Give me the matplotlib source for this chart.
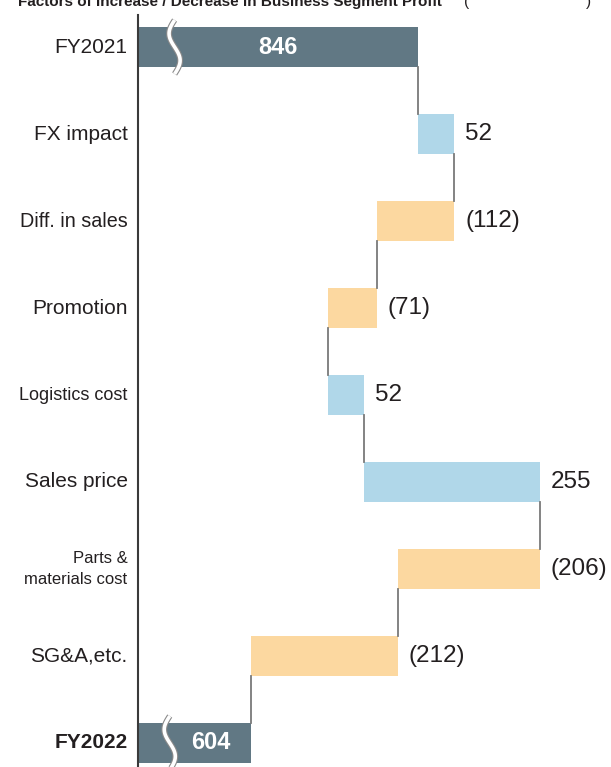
import matplotlib
matplotlib.use("Agg")
import matplotlib.pyplot as plt
import numpy as np
from matplotlib import font_manager

names = {f.name for f in font_manager.fontManager.ttflist}
narrow = "Liberation Sans Narrow" if "Liberation Sans Narrow" in names else "Liberation Sans"

categories = ["FY2021", "FX impact", "Diff. in sales", "Promotion", "Logistics cost",
              "Sales price", "Parts &\nmaterials cost", "SG&A,etc.", "FY2022"]
start_value = 846
changes = [52, -112, -71, 52, 255, -206, -212]
end_value = 604
change_labels = ["52", "(112)", "(71)", "52", "255", "(206)", "(212)"]

c_total = "#617884"
c_up = "#b0d7e9"
c_down = "#fcd8a0"
c_text = "#231f20"

fig = plt.figure(figsize=(6.11, 7.67), dpi=100)
W, H = 611, 767
ax = fig.add_axes([138 / W, 0, 1 - 138 / W, (767 - 15) / H])
ax.set_xlim(440, 1125)
ax.set_ylim(8.276, -0.368)

bh = 0.47
ax.barh(0, start_value - 440, left=440, height=bh, color=c_total)
ax.barh(8, end_value - 440, left=440, height=bh, color=c_total)

cum = start_value
ends = [start_value]
for i, ch in enumerate(changes):
    y = i + 1
    lo, hi = min(cum, cum + ch), max(cum, cum + ch)
    ax.barh(y, hi - lo, left=lo, height=bh, color=c_up if ch > 0 else c_down)
    ax.text(hi + 16, y, change_labels[i], va="center", ha="left", fontsize=17.5,
            color=c_text, family="Liberation Sans")
    cum += ch
    ends.append(cum)

for i, v in enumerate(ends):
    ax.plot([v, v], [i + bh / 2, i + 1 - bh / 2], color="#7a7a7a", lw=1.3, zorder=1)

ax.text(643, 0, "846", color="white", fontsize=17, fontweight="bold", ha="center",
        va="center", family="Liberation Sans")
ax.text(545, 8, "604", color="white", fontsize=17, fontweight="bold", ha="center",
        va="center", family="Liberation Sans")

def brk(xc, yc):
    t = np.linspace(-0.31, 0.31, 60)
    xs = xc + 8 * np.sin(t / 0.31 * np.pi)
    ax.plot(xs, yc + t, color="#8a8a8a", lw=4.2, solid_capstyle="butt", zorder=3)
    ax.plot(xs, yc + t, color="white", lw=2.6, solid_capstyle="butt", zorder=4)

brk(493, 0)
brk(486, 8)

for s in ["top", "right", "bottom"]:
    ax.spines[s].set_visible(False)
ax.spines["left"].set_color("#3a3a3a")
ax.spines["left"].set_linewidth(1.5)
ax.set_xticks([])
ax.set_yticks(range(len(categories)))
ax.set_yticklabels([])
ax.tick_params(axis="y", length=0)

sizes = [15, 15, 14.2, 15, 13, 15, 12, 15, 15]
fams = ["Liberation Sans", "Liberation Sans", "Liberation Sans", "Liberation Sans", narrow,
        "Liberation Sans", narrow, "Liberation Sans", "Liberation Sans"]
for i, lab in enumerate(categories):
    ax.text(-0.022, i, lab, transform=ax.get_yaxis_transform(), ha="right", va="center",
            fontsize=sizes[i], family=fams[i], color=c_text,
            fontweight="bold" if i == 8 else "normal", linespacing=1.45)

fig.text(18 / W, (767 - 6) / H, "Factors of Increase / Decrease in Business Segment Profit",
         fontsize=11, fontweight="bold", family=narrow, color=c_text, va="baseline")
fig.text(464 / W, (767 - 6) / H, "(", fontsize=11, family=narrow, color=c_text, va="baseline")
fig.text(586 / W, (767 - 6) / H, ")", fontsize=11, family=narrow, color=c_text, va="baseline")

fig.savefig("out.png", dpi=100)
